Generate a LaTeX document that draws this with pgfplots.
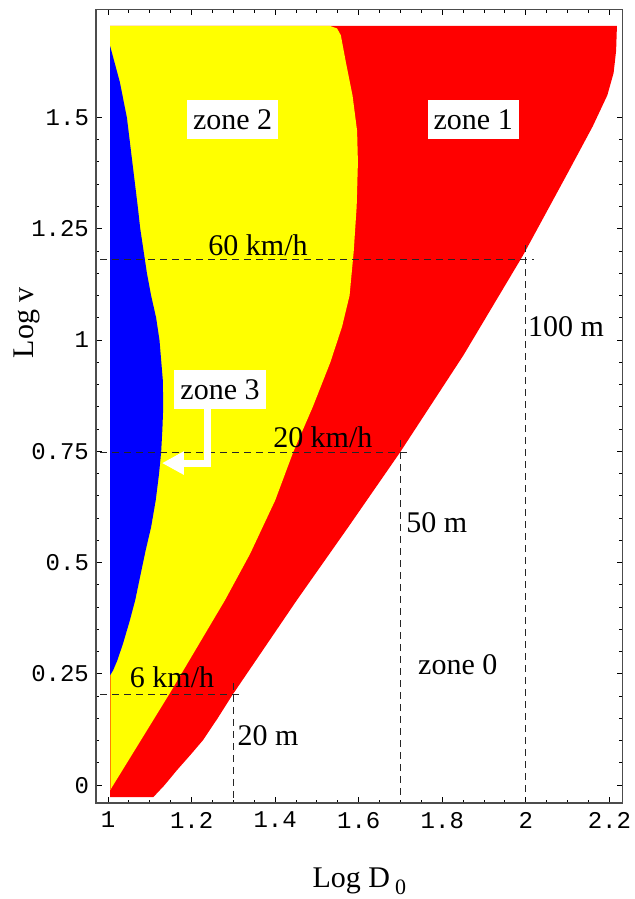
\documentclass[border=0pt]{standalone}
\usepackage{pgfplots}
\pgfplotsset{compat=1.18}
\usepackage{fontspec}
\setmainfont{Liberation Serif}
\setmonofont{Liberation Mono}
\usetikzlibrary{arrows.meta}
\definecolor{zred}{RGB}{255,0,0}
\definecolor{zyel}{RGB}{255,255,0}
\definecolor{zblu}{RGB}{0,0,255}
\begin{document}
\begin{tikzpicture}
\begin{axis}[
 scale only axis, width=263.5pt, height=397pt,
 xmin=0.971, xmax=2.232, ymin=-0.040, ymax=1.743,
 xtick={1,1.2,1.4,1.6,1.8,2,2.2}, xticklabels={1,1.2,1.4,1.6,1.8,2,2.2},
 ytick={0,0.25,0.5,0.75,1,1.25,1.5}, yticklabels={0,0.25,0.5,0.75,1,1.25,1.5},
 minor x tick num=3, minor y tick num=4,
 tick align=inside, major tick length=3pt, minor tick length=1.75pt,
 tick style={black, line width=0.5pt},
 axis line style={gray!60!black, line width=0.7pt},
 /pgf/number format/assume math mode=true,
 ticklabel style={font=\ttfamily\fontsize{12}{12}\selectfont},
 xticklabel style={yshift=-1pt},
 xlabel={Log D\,\raisebox{-0.45ex}{\fontsize{11}{11}\selectfont 0}}, ylabel={Log v},
 label style={font=\fontsize{15}{15}\selectfont},
 xlabel style={at={(axis description cs:0.5,-0.107)}, anchor=base},
 ylabel style={at={(axis description cs:-0.131,0.605)}, anchor=center},
 axis on top,
]
% zone 1 (red) outer region
\addplot[fill=zred, draw=none] coordinates {
(1.005,-0.027) (1.108,-0.027) (1.135,0.000) (1.165,0.034) (1.197,0.068)
(1.227,0.101) (1.262,0.150) (1.297,0.202) (1.452,0.416) (1.575,0.580)
(1.699,0.748) (1.85,0.965) (1.993,1.19) (2.10,1.375) (2.16,1.48)
(2.195,1.55) (2.210,1.60) (2.216,1.65) (2.218,1.706) (1.005,1.706)
};
% zone 2 (yellow)
\addplot[fill=zyel, draw=none] coordinates {
(1.005,-0.011) (1.005,1.706) (1.53,1.706) (1.548,1.700) (1.557,1.685)
(1.57,1.62) (1.585,1.55) (1.596,1.47) (1.598,1.40) (1.595,1.30)
(1.588,1.20) (1.578,1.10) (1.560,1.03) (1.532,0.95) (1.49,0.85)
(1.443,0.748) (1.40,0.64) (1.34,0.52) (1.28,0.416) (1.148,0.207)
};
% zone 3 (blue)
\addplot[fill=zblu, draw=none] coordinates {
(1.005,0.247) (1.012,0.258) (1.022,0.28) (1.036,0.319) (1.052,0.37)
(1.065,0.416) (1.077,0.47) (1.090,0.528) (1.103,0.58) (1.114,0.64)
(1.122,0.70) (1.127,0.748) (1.130,0.80) (1.132,0.85) (1.131,0.91)
(1.127,0.955) (1.123,1.0) (1.115,1.05) (1.103,1.10) (1.093,1.15)
(1.085,1.20) (1.077,1.25) (1.071,1.30) (1.058,1.40) (1.045,1.50)
(1.028,1.58) (1.005,1.66)
};
\addplot[orange, line width=0.5pt] coordinates {(1.005,-0.011) (1.005,0.247)};
% dashed guide lines
\addplot[black!85, line width=0.55pt, dash pattern=on 3.5pt off 2.5pt] coordinates {(0.981,1.18) (2.02,1.18)};
\addplot[black!85, line width=0.55pt, dash pattern=on 3.5pt off 2.5pt] coordinates {(2,1.213) (2,-0.040)};
\addplot[black!85, line width=0.55pt, dash pattern=on 3.5pt off 2.5pt] coordinates {(0.981,0.748) (1.72,0.748)};
\addplot[black!85, line width=0.55pt, dash pattern=on 3.5pt off 2.5pt] coordinates {(1.7,0.775) (1.7,-0.040)};
\addplot[black!85, line width=0.55pt, dash pattern=on 3.5pt off 2.5pt] coordinates {(0.981,0.2045) (1.32,0.2045)};
\addplot[black!85, line width=0.55pt, dash pattern=on 3.5pt off 2.5pt] coordinates {(1.3,0.23) (1.3,-0.040)};
% labels
\node[font=\fontsize{15}{15}\selectfont] at (axis cs:1.359,1.213) {60 km/h};
\node[font=\fontsize{15}{15}\selectfont] at (axis cs:1.514,0.782) {20 km/h};
\node[font=\fontsize{15}{15}\selectfont] at (axis cs:1.153,0.243) {6 km/h};
\node[font=\fontsize{15}{15}\selectfont] at (axis cs:2.096,1.029) {100 m};
\node[font=\fontsize{15}{15}\selectfont] at (axis cs:1.787,0.589) {50 m};
\node[font=\fontsize{15}{15}\selectfont] at (axis cs:1.383,0.112) {20 m};
\node[font=\fontsize{15}{15}\selectfont] at (axis cs:1.837,0.270) {zone 0};
\node[fill=white, inner xsep=3pt, minimum height=19.5pt, font=\fontsize{15}{15}\selectfont] at (axis cs:1.298,1.495) {zone 2};
\node[fill=white, inner xsep=3pt, minimum height=19.5pt, font=\fontsize{15}{15}\selectfont] at (axis cs:1.874,1.495) {zone 1};
\node[fill=white, inner xsep=3pt, minimum height=19.5pt, font=\fontsize{15}{15}\selectfont] at (axis cs:1.268,0.888) {zone 3};
\draw[white, line width=3.5pt, line join=miter, -{Triangle[length=11pt,width=11pt]}] (axis cs:1.239,0.86) |- (axis cs:1.129,0.7236);
\end{axis}
\pgfresetboundingbox
\path[use as bounding box] ([shift={(-48pt,-48pt)}]current axis.south west) rectangle ([shift={(6pt,4.65pt)}]current axis.north east);
\end{tikzpicture}
\end{document}
